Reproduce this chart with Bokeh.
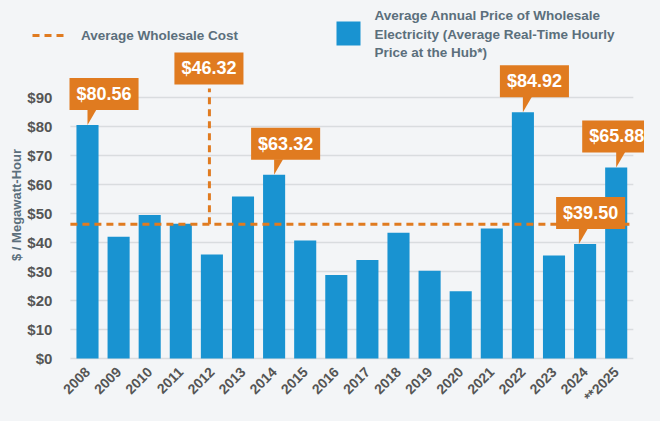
import math
from bokeh.plotting import figure
from bokeh.models import (ColumnDataSource, FixedTicker, NumeralTickFormatter,
                          Label, Legend, LegendItem, Range1d)
from bokeh.embed import file_html
from bokeh.resources import INLINE

# ---------------- data ----------------
years = ["2008", "2009", "2010", "2011", "2012", "2013", "2014", "2015", "2016",
         "2017", "2018", "2019", "2020", "2021", "2022", "2023", "2024", "**2025"]
prices = [80.56, 42.0, 49.5, 46.5, 35.9, 55.9, 63.32, 40.7, 28.8,
          34.0, 43.4, 30.3, 23.2, 44.8, 84.92, 35.5, 39.50, 65.88]
avg_cost = 46.32
callout_years = ["2008", "2014", "2022", "2024", "**2025"]
y_ticks = [0, 10, 20, 30, 40, 50, 60, 70, 80, 90]
avg_year = "2012"
legend_bar_lines = ["Average Annual Price of Wholesale",
                    "Electricity (Average Real-Time Hourly",
                    "Price at the Hub*)"]

# ---------------- style / layout ----------------
BLUE = "#1993D1"
ORANGE = "#E07B20"
BG = "#F3F5F7"
SLATE = "#5B6F7C"
DARK = "#555555"
GRID = "#D9DCDF"
FONT = "Liberation Sans"

W, H = 644, 405
PX_X = 31.1          # pixels per category
PX_Y = 2.9           # pixels per $
X0_PX = 87           # pixel of first category centre
Y0_PX = 358          # pixel of $0 (from top)
GRID_X = (-0.55, 17.55)

idx = list(range(len(years)))

p = figure(width=W, height=H, output_backend="svg", toolbar_location=None,
           x_range=Range1d(-X0_PX / PX_X, (W - X0_PX) / PX_X),
           y_range=Range1d(-(H - Y0_PX) / PX_Y, Y0_PX / PX_Y),
           min_border_left=0, min_border_right=0, min_border_top=0, min_border_bottom=0,
           background_fill_color=BG, border_fill_color=BG, outline_line_color=None)

# grid lines (only across the bar area)
p.xgrid.grid_line_color = None
p.ygrid.grid_line_color = None
p.segment(x0=[GRID_X[0]] * len(y_ticks), x1=[GRID_X[1]] * len(y_ticks),
          y0=y_ticks, y1=y_ticks, line_color=GRID, line_width=1.6)

src = ColumnDataSource(dict(x=idx, top=prices, year=years))
bars = p.vbar(x="x", top="top", width=0.71, source=src, fill_color=BLUE, line_color=None)

# average line
p.segment(x0=[GRID_X[0]], x1=[GRID_X[1]], y0=[avg_cost], y1=[avg_cost],
          line_color=ORANGE, line_width=3, line_dash="7 5")

ax = years.index(avg_year) - 0.08
avg_label_y = 94.5
vline = p.segment(x0=[ax], y0=[avg_cost], x1=[ax], y1=[avg_label_y - 1.4],
                  line_color=ORANGE, line_width=3, line_dash="7 5")
p.add_layout(Label(x=ax, y=avg_label_y, x_offset=-35, text=f"${avg_cost:.2f}",
                   text_font=FONT, text_font_style="bold", text_font_size="18px",
                   text_color="white", text_align="left", text_baseline="bottom",
                   background_fill_color=ORANGE, padding=(7, 6)))

# callouts
label_dx = {"2008": -18, "2014": -23, "2022": -23, "2024": -29, "**2025": -34}
ptr_dx = {"2008": 0, "2014": 0, "2022": 0, "2024": -0.2, "**2025": 0}
ptr_h = 15.5 / PX_Y
ptr_w = 9 / PX_X
pxs, pys = [], []
for yr in callout_years:
    i = years.index(yr)
    v = prices[i]
    c = i + ptr_dx[yr]
    pxs.append([c, c, c + ptr_w])
    pys.append([v, v + ptr_h, v + ptr_h])
    p.add_layout(Label(x=i, y=v, x_offset=label_dx[yr], y_offset=15, text=f"${v:.2f}",
                       text_font=FONT, text_font_style="bold", text_font_size="18px",
                       text_color="white", text_align="left", text_baseline="bottom",
                       background_fill_color=ORANGE, padding=(7, 6)))
p.patches(pxs, pys, fill_color=ORANGE, line_color=None)

# axes (fixed inside the frame)
p.yaxis.fixed_location = GRID_X[0]
p.yaxis.bounds = (0, 106)
p.yaxis.ticker = FixedTicker(ticks=y_ticks)
p.yaxis.formatter = NumeralTickFormatter(format="$0")
p.yaxis.axis_label = "$ / Megawatt-Hour"
p.yaxis.axis_label_text_font = FONT
p.yaxis.axis_label_text_font_style = "bold"
p.yaxis.axis_label_text_font_size = "13px"
p.yaxis.axis_label_text_color = SLATE
p.yaxis.axis_label_standoff = 0
p.yaxis.major_label_standoff = 12

p.xaxis.fixed_location = 0
p.xaxis.ticker = FixedTicker(ticks=idx)
p.xaxis.major_label_overrides = {i: y for i, y in zip(idx, years)}
p.xaxis.major_label_orientation = math.pi / 4
p.xaxis.major_label_standoff = 5

for a in (p.xaxis[0], p.yaxis[0]):
    a.axis_line_color = None
    a.major_tick_line_color = None
    a.minor_tick_line_color = None
    a.major_label_text_font = FONT
    a.major_label_text_font_style = "bold"
    a.major_label_text_color = DARK
p.yaxis.major_label_text_font_size = "15px"
p.xaxis.major_label_text_font_size = "14px"

# legend: average line
leg1 = Legend(items=[LegendItem(label="Average Wholesale Cost", renderers=[vline])],
              location=(32, 362), glyph_width=36, glyph_height=16, label_standoff=13,
              label_text_font=FONT, label_text_font_style="bold",
              label_text_font_size="13.5px", label_text_color=SLATE,
              background_fill_alpha=0, border_line_color=None, padding=0,
              margin=0, spacing=0)
p.add_layout(leg1)

# legend: bars (swatch + three text lines)
p.scatter(x=[(348 - X0_PX) / PX_X], y=[(Y0_PX - 33) / PX_Y], marker="square", size=24,
          fill_color=BLUE, line_color=None)
for k, line in enumerate(legend_bar_lines):
    p.add_layout(Label(x=374, y=H - 15 - 18.5 * k, x_units="screen", y_units="screen",
                       text=line, text_font=FONT, text_font_style="bold",
                       text_font_size="13.5px", text_color=SLATE,
                       text_align="left", text_baseline="middle"))

html = file_html(p, INLINE)
html = html.replace("<body>", '<body style="background-color:#F3F5F7;">')
open("out.html", "w").write(html)
